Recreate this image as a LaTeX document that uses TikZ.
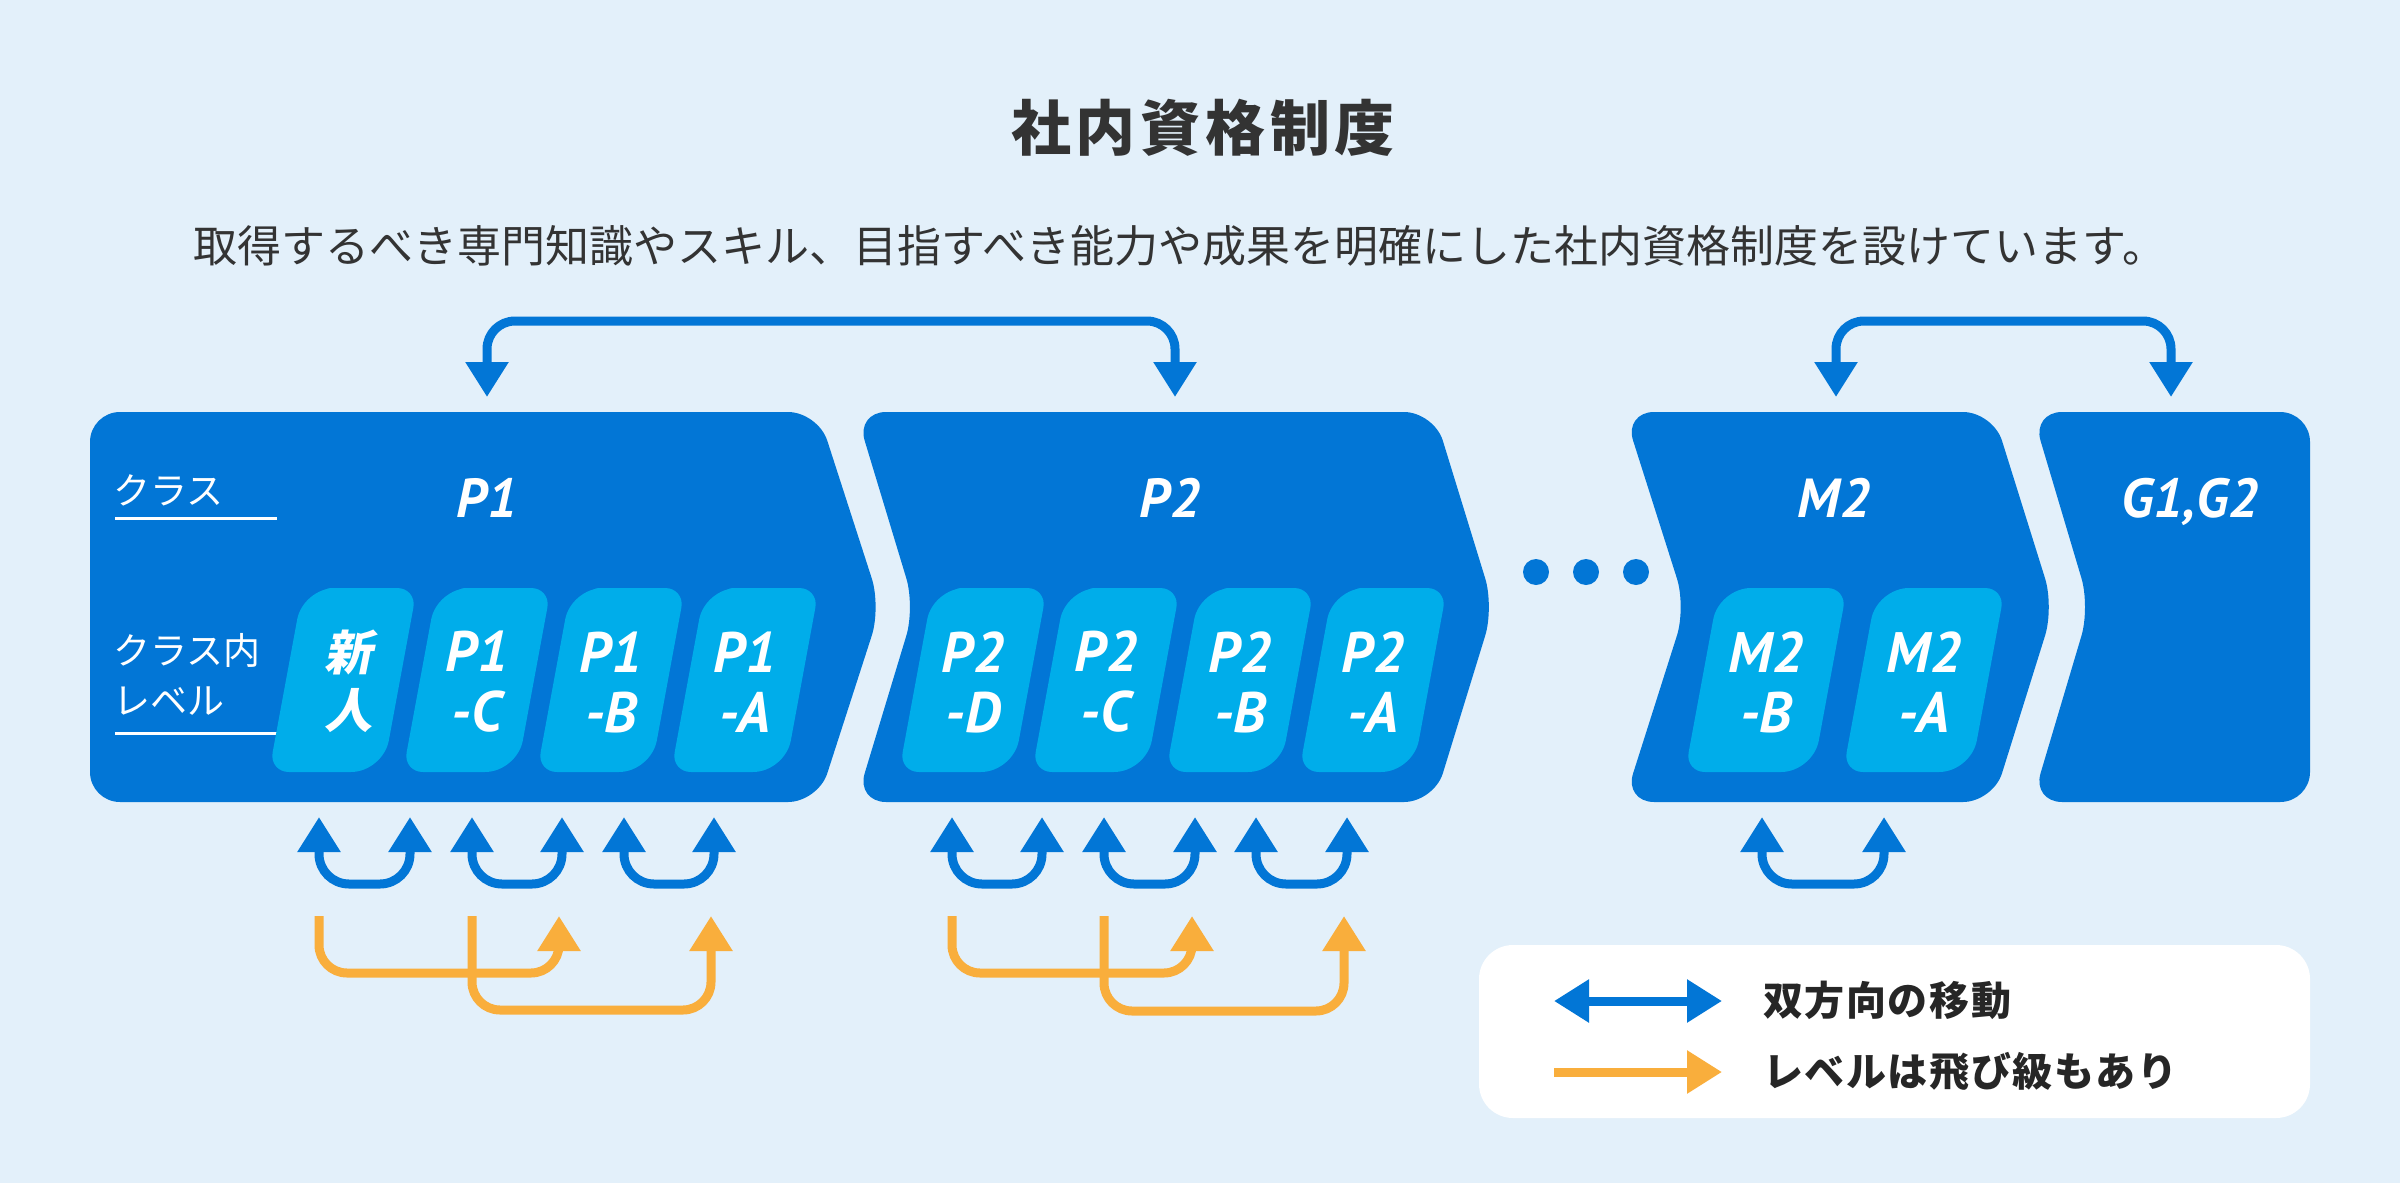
\documentclass[tikz,border=0pt]{standalone}
\usepackage{fontspec}
\usetikzlibrary{arrows.meta}
\setmainfont{Noto Sans CJK JP}
\newfontfamily\jp{Noto Sans CJK JP}
\newfontfamily\jpsl{Noto Sans CJK JP}[FakeSlant=0.2]
\newfontfamily\lab{PT Sans}
\definecolor{bgblue}{HTML}{E3F0FA}
\definecolor{clsblue}{HTML}{0276D6}
\definecolor{lvlcyan}{HTML}{00ADEA}
\definecolor{skiporange}{HTML}{F9AE3C}
\definecolor{txtgray}{HTML}{333333}
\begin{document}
\begin{tikzpicture}[x=1pt,y=-1pt,>={Triangle[length=35pt,width=41pt]},
 cls/.style={fill=clsblue,rounded corners=30pt},
 lvl/.style={fill=lvlcyan},
 twoway/.style={draw=clsblue,line width=9pt,<->},
 skip/.style={draw=skiporange,line width=9pt,->},
 clsname/.style={text=white,inner sep=0pt,anchor=base,font=\lab\bfseries\itshape\fontsize{55}{55}\selectfont},
 lvlname/.style={text=white,inner sep=0pt,align=center,font=\lab\bfseries\itshape\fontsize{57}{60}\selectfont},
 side/.style={text=white,inner sep=0pt,anchor=west,align=left,font=\jp\fontsize{37}{50}\selectfont},
 legtxt/.style={text=black!85,inner sep=0pt,anchor=west,font=\jp\bfseries\fontsize{40}{40}\selectfont\addfontfeature{LetterSpace=4}}]
\fill[bgblue] (0,0) rectangle (2400,1183);
\useasboundingbox (0,0) rectangle (2400,1183);

\node[text=txtgray,inner sep=0pt,font=\jp\bfseries\fontsize{60}{60}\selectfont\addfontfeature{LetterSpace=8}] (title) at (1203,128) {社内資格制度};
\node[text=txtgray,inner sep=0pt,font=\jp\fontsize{44}{44}\selectfont] (lead) at (1180,246) {取得するべき専門知識やスキル、目指すべき能力や成果を明確にした社内資格制度を設けています。};

\fill[cls] (90,607) -- (90,412) -- (818,412) -- (881,607) -- (818,802) -- (90,802) -- cycle;
\fill[cls] (1145,412) -- (1434,412) -- (1494,607) -- (1434,802) -- (856,802) -- (915,607) -- (856,412) -- cycle;
\fill[cls] (1800,412) -- (1993,412) -- (2054,607) -- (1993,802) -- (1624,802) -- (1686,607) -- (1624,412) -- cycle;
\fill[cls] (2200,412) -- (2310,412) -- (2310,802) -- (2032,802) -- (2090,607) -- (2032,412) -- cycle;
\foreach \x in {1536,1586,1636} \fill[clsblue] (\x,572) circle (13pt);

\node[side] (clslbl) at (113,490) {クラス};
\node[side] (lvllbl) at (113,674) {クラス内\\レベル};
\draw[white,line width=3pt] (115,518) -- (277,518);
\draw[white,line width=3pt] (115,733) -- (290,733);

\foreach \x/\w in {343/57,477/57,611/57,745/57,973/57,1106/57,1240/57,1373/57,1766/64,1924/64}
  \fill[lvl] (\x+16,588) [rounded corners=20pt] -- (\x+\w+17,588) [rounded corners=32pt] -- (\x+\w-17,772) [rounded corners=20pt] -- (\x-\w-17,772) [rounded corners=32pt] -- (\x-\w+17,588) -- cycle;

\node[clsname] (P1) at (487,517) {P1};
\node[clsname] (P2) at (1170,517) {P2};
\node[clsname] (M2) at (1834,517) {M2};
\node[clsname] (G) at (2190,517) {G1,G2};

\node[lvlname,font=\jpsl\bfseries\fontsize{48}{58}\selectfont] (new) at (348,681) {新\\人};
\foreach \x/\a/\b in {477/P1/C,611/P1/B,745/P1/A,973/P2/D,1106/P2/C,1240/P2/B,1373/P2/A,1766/M2/B,1924/M2/A}
  \node[lvlname] (\a\b) at (\x,682) {\a\\-\b};

\coordinate (tP1) at (487,397);
\coordinate (tP2) at (1175,397);
\coordinate (tM2) at (1836,397);
\coordinate (tG) at (2171,397);
\draw[twoway,rounded corners=28pt] (tP1) -- ++(0,-76) -| (tP2);
\draw[twoway,rounded corners=28pt] (tM2) -- ++(0,-76) -| (tG);

\foreach \a/\b [count=\i] in {319/410,472/562,624/714,952/1042,1104/1195,1256/1347,1762/1884}{
  \coordinate (ul\i) at (\a,817);
  \coordinate (ur\i) at (\b,817);
  \draw[twoway,rounded corners=30pt] (ul\i) -- ++(0,67) -| (ur\i);
}
\foreach \a/\b/\d [count=\i] in {319/559/57,472/711/94,952/1192/57,1104/1344/95}{
  \coordinate (sf\i) at (\a,916);
  \coordinate (st\i) at (\b,916);
  \draw[skip,rounded corners=28pt] (sf\i) -- ++(0,\d) -| (st\i);
}

\fill[white,rounded corners=34pt] (1479,945) rectangle (2310,1118);
\coordinate (la1) at (1554,1001);
\coordinate (lb1) at (1722,1001);
\coordinate (la2) at (1554,1072);
\coordinate (lb2) at (1722,1072);
\draw[twoway] (la1) -- (lb1);
\draw[skip] (la2) -- (lb2);
\node[legtxt] (leg1) at (1763,1000) {双方向の移動};
\node[legtxt] (leg2) at (1763,1072) {レベルは飛び級もあり};
\end{tikzpicture}
\end{document}
